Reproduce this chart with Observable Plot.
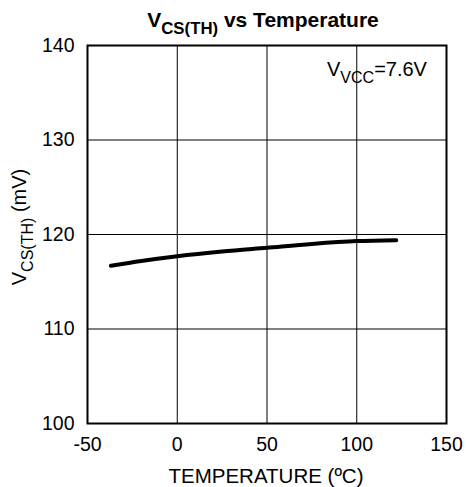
<!DOCTYPE html>
<html>
<head>
<meta charset="utf-8">
<script src="https://cdn.jsdelivr.net/npm/d3@7"></script>
<script src="https://cdn.jsdelivr.net/npm/@observablehq/plot@0.6"></script>
<style>
  body { margin: 0; background: #fff; }
  svg { font-family: "Liberation Sans", Arial, sans-serif; }
</style>
</head>
<body>
<div id="chart"></div>
<script>
// Data
const temperature = [-37, -20, 0, 25, 50, 75, 100, 122];
const vcsth = [116.7, 117.2, 117.7, 118.2, 118.6, 119.0, 119.3, 119.4];
const xTicks = [-50, 0, 50, 100, 150];
const yTicks = [100, 110, 120, 130, 140];
const titleMain = "V";
const titleSub = "CS(TH)";
const titleRest = " vs Temperature";
const xLabel = "TEMPERATURE (ºC)";
const yLabelMain = "V";
const yLabelSub = "CS(TH)";
const yLabelRest = " (mV)";
const noteMain = "V";
const noteSub = "VCC";
const noteRest = "=7.6V";

const data = temperature.map((t, i) => ({t, v: vcsth[i]}));

const chart = Plot.plot({
  width: 466,
  height: 487,
  marginLeft: 87,
  marginRight: 20,
  marginTop: 45,
  marginBottom: 64,
  style: {fontSize: "19px", fontFamily: "Liberation Sans, Arial, sans-serif", color: "#000", background: "#fff"},
  x: {domain: [-50, 150], ticks: xTicks},
  y: {domain: [100, 140], ticks: yTicks},
  marks: [
    Plot.gridX(xTicks, {stroke: "#000", strokeOpacity: 1, strokeWidth: 1}),
    Plot.gridY(yTicks, {stroke: "#000", strokeOpacity: 1, strokeWidth: 1}),
    Plot.axisX(xTicks, {tickSize: 0, tickPadding: 14, fontSize: 19.5, label: null, fill: "#000", tickFormat: d => String(d)}),
    Plot.axisY(yTicks, {tickSize: 0, tickPadding: 13, fontSize: 19.5, label: null, fill: "#000", tickFormat: d => String(d)}),
    Plot.frame({stroke: "#000", strokeWidth: 2}),
    Plot.line(data, {x: "t", y: "v", stroke: "#000", strokeWidth: 4, curve: "monotone-x"})
  ]
});
document.getElementById("chart").appendChild(chart);

const svg = d3.select(chart);
function richText(x, y, main, sub, rest, opts) {
  const t = svg.append("text")
    .attr("x", x).attr("y", y)
    .attr("text-anchor", opts.anchor || "middle")
    .attr("font-size", opts.size)
    .attr("font-weight", opts.weight || "normal")
    .attr("fill", "#000");
  if (opts.rotate) t.attr("transform", `rotate(-90 ${x} ${y})`);
  t.append("tspan").text(main);
  t.append("tspan").attr("dy", opts.size * 0.35).attr("font-size", opts.size * 0.8).text(sub);
  t.append("tspan").attr("dy", -opts.size * 0.35).text(rest);
  return t;
}
richText(263, 27, titleMain, titleSub, titleRest, {size: 21, weight: "bold"});
richText(26, 227, yLabelMain, yLabelSub, yLabelRest, {size: 20, rotate: true});
richText(327, 76, noteMain, noteSub, noteRest, {size: 20, anchor: "start"});
svg.append("text").attr("x", 266).attr("y", 483).attr("text-anchor", "middle")
  .attr("font-size", 20.5).attr("fill", "#000").text(xLabel);
</script>
</body>
</html>
